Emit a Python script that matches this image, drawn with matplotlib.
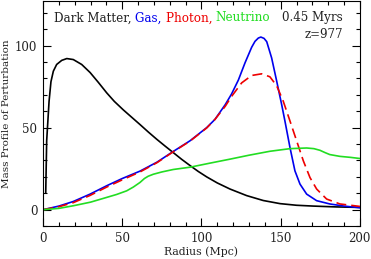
import matplotlib
matplotlib.use("Agg")
import matplotlib.pyplot as plt
from matplotlib.offsetbox import TextArea, HPacker, AnchoredOffsetbox
from matplotlib.ticker import MultipleLocator

# values
dm_r = [1.7, 2.3, 3.8, 5, 6.5, 8.6, 11.8, 15, 19.1, 24.4, 29.7, 34.9, 40.2, 45, 50.7,
        56, 61.2, 66.5, 71.8, 77, 82.2, 87.5, 92.8, 98, 103.3, 110, 118, 128.5, 139,
        149.6, 160, 170.6, 185, 200]
dm_m = [10.5, 42, 66, 78, 84.4, 88.5, 91, 92.1, 91.5, 88.5, 83.6, 77.6, 71.2, 66, 60.8,
        56.3, 51.9, 47.3, 42.9, 38.8, 34.8, 30.7, 26.9, 23.3, 20.0, 16.3, 12.6, 8.6, 5.6,
        3.7, 2.7, 2.2, 1.7, 1.4]

gas_r = [0, 10, 19.1, 29.7, 40.2, 50, 61.2, 72, 82.2, 92.8, 103.3, 108.5, 115, 119,
         123.3, 127.5, 131.7, 133.8, 135.9, 137.5, 139.5, 141.2, 144.3, 147.5, 150.6,
         152.7, 155.9, 159, 162.2, 166.4, 172.7, 181, 190, 200]
gas_m = [0, 2.2, 5, 9.5, 14.6, 19, 23.5, 29, 35.5, 42, 50, 55, 64, 70.5,
         79, 89.5, 99, 102.6, 104.6, 105.2, 104.4, 102.4, 92.5, 78.3, 64.2,
         54, 37.8, 23.7, 15.6, 9.5, 5.5, 3.5, 2.2, 1.2]

pho_r = [0, 10, 19.1, 29.7, 40.2, 50, 61.2, 72, 82.2, 92.8, 103.3, 108.5, 115, 119,
         125.4, 131.7, 138, 143.2, 147.5, 151.6, 155.9, 160.1, 164.3, 168.5, 172.7,
         179, 187.4, 200]
pho_m = [0, 1.8, 4.3, 8.7, 13.8, 18.2, 23, 28.7, 35.3, 41.8, 49.8, 55, 63, 69,
         77.3, 81.8, 82.8, 81, 75.5, 66.2, 54, 41.9, 29.8, 19.6, 12.6,
         6.5, 3.5, 2]

nu_r = [0, 10, 19.1, 30, 40.2, 46.5, 52.8, 57, 61.2, 64, 66.4, 69.6, 75, 82.2, 92.8,
        105, 118, 130, 143.2, 155.9, 166.4, 171, 174.8, 178, 181, 187.4, 194, 200]
nu_m = [0, 0.8, 2.4, 4.6, 7.5, 9.3, 11.5, 13.8, 16.6, 19, 20.4, 21.6, 23, 24.5, 25.9,
        28.3, 30.8, 33.2, 35.6, 37.2, 37.6, 37.2, 36.2, 34.8, 33.6, 32.5, 31.9, 31.2]

plt.rcParams['font.family'] = 'DejaVu Serif'
plt.rcParams['font.size'] = 8

fig = plt.figure(figsize=(3.71, 2.59), dpi=100)
ax = fig.add_axes([0.116, 0.127, 0.854, 0.868])

ax.plot(dm_r, dm_m, color='black', lw=1.2)
ax.plot(gas_r, gas_m, color='#0000ee', lw=1.2)
ax.plot(pho_r, pho_m, color='#ee0000', lw=1.2, dashes=(6, 3))
ax.plot(nu_r, nu_m, color='#22dd22', lw=1.2)

ax.set_xlim(0, 200)
ax.set_ylim(-10, 127)
ax.xaxis.set_major_locator(MultipleLocator(50))
ax.xaxis.set_minor_locator(MultipleLocator(10))
ax.yaxis.set_major_locator(MultipleLocator(50))
ax.yaxis.set_minor_locator(MultipleLocator(10))
ax.tick_params(which='both', direction='in', top=True, right=True, width=0.8,
               labelsize=8.5, labelcolor='#222222')
ax.tick_params(which='major', length=6, pad=4)
ax.tick_params(which='minor', length=3)
ax.set_xlabel('Radius (Mpc)', labelpad=1, fontsize=7.8, color='#222222')
ax.set_ylabel('Mass Profile of Perturbation', labelpad=3, fontsize=7.5, color='#222222')

parts = [('Dark Matter, ', '#222222'), ('Gas, ', '#0000ee'),
         ('Photon, ', '#ee0000'), ('Neutrino', '#22dd22')]
boxes = [TextArea(t, textprops=dict(color=c, fontsize=8.6)) for t, c in parts]
pack = HPacker(children=boxes, pad=0, sep=0)
anc = AnchoredOffsetbox(loc='upper left', child=pack, frameon=False,
                        bbox_to_anchor=(0.035, 0.955), bbox_transform=ax.transAxes,
                        borderpad=0, pad=0)
ax.add_artist(anc)

ax.text(0.946, 0.957, '0.45 Myrs', transform=ax.transAxes, ha='right', va='top',
        fontsize=8.6, color='#222222')
ax.text(0.946, 0.882, 'z=977', transform=ax.transAxes, ha='right', va='top',
        fontsize=8.6, color='#222222')

fig.savefig('out.png', dpi=100)
